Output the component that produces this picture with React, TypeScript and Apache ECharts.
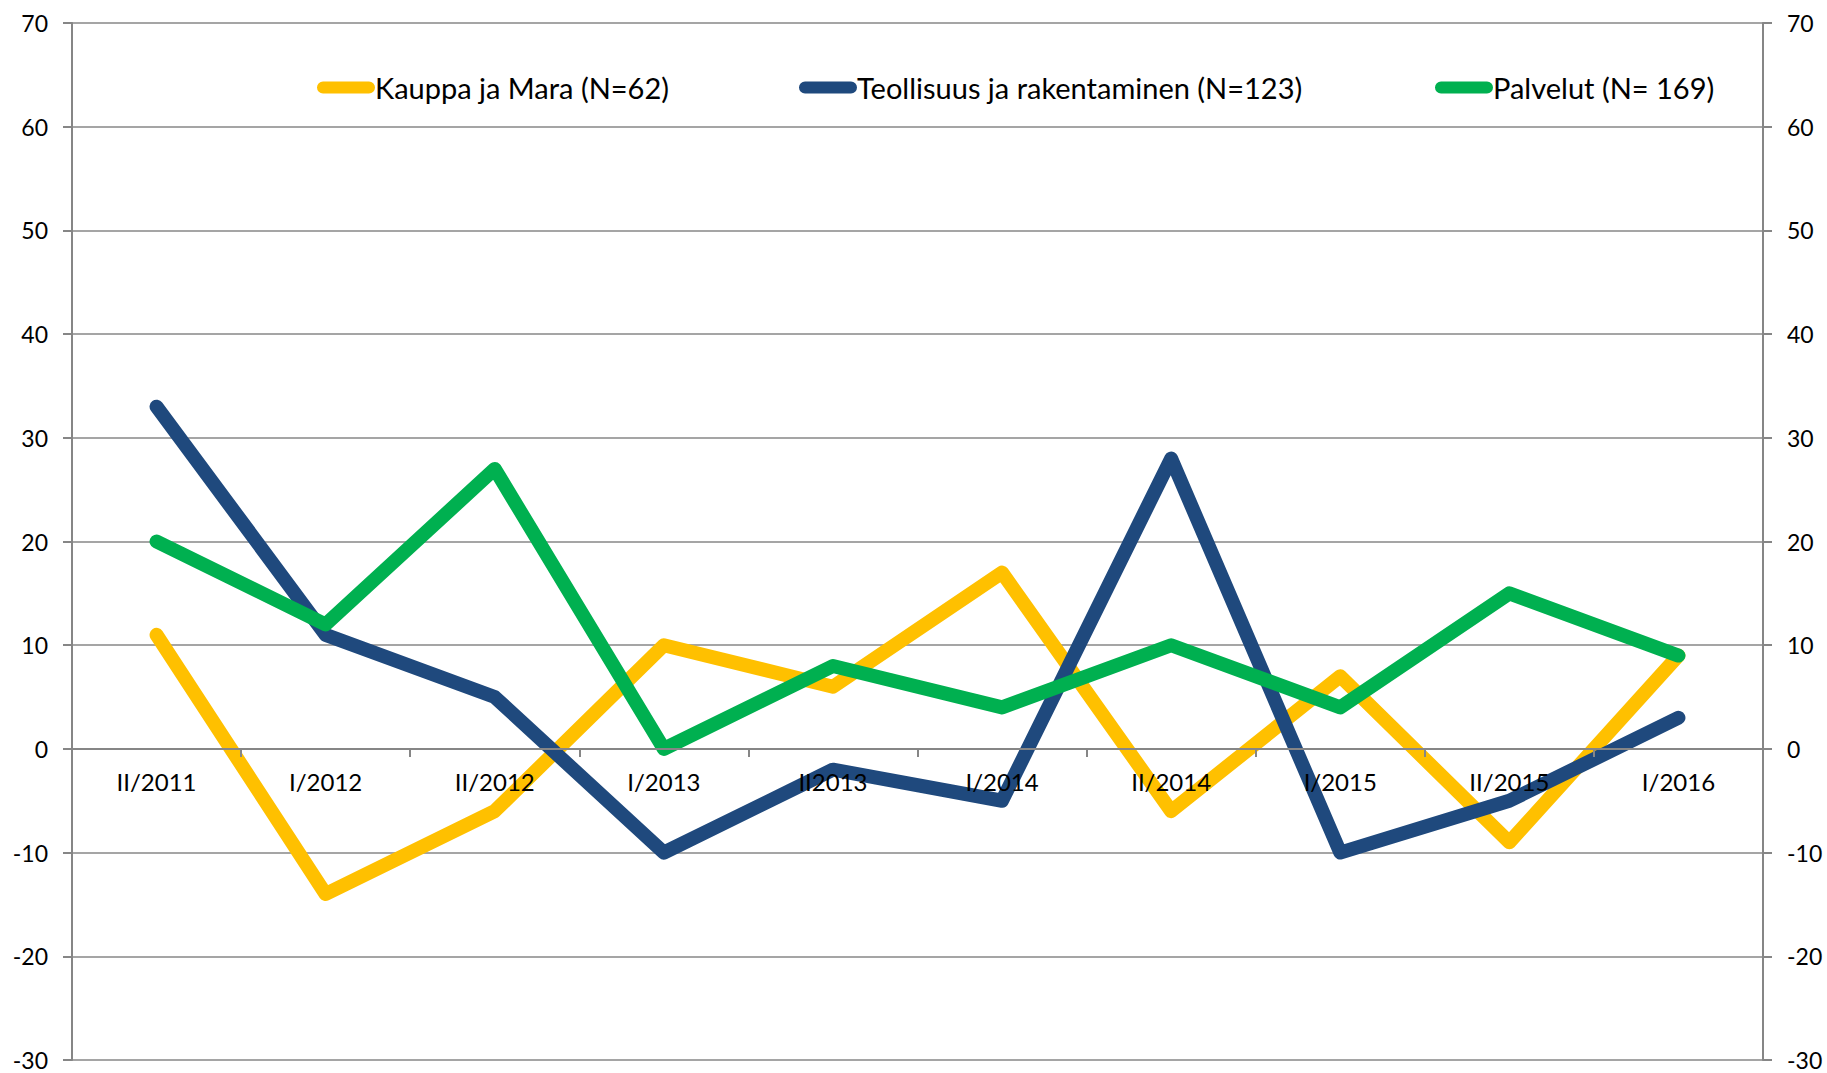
import React, { useEffect, useRef } from "react";
import * as echarts from "echarts";

const categories = ["II/2011", "I/2012", "II/2012", "I/2013", "II2013", "I/2014", "II/2014", "I/2015", "II/2015", "I/2016"];
const seriesNames = ["Kauppa ja Mara (N=62)", "Teollisuus ja rakentaminen (N=123)", "Palvelut (N= 169)"];
const kauppa = [11, -14, -6, 10, 6, 17, -6, 7, -9, 9];
const teollisuus = [33, 11, 5, -10, -2, -5, 28, -10, -5, 3];
const palvelut = [20, 12, 27, 0, 8, 4, 10, 4, 15, 9];
const colors = ["#FFC000", "#1F497D", "#00B050"];
const yMin = -30;
const yMax = 70;
const yStep = 10;

const FONT = "Lato";
const legendIcon = "path://M6,0 L52,0 A6,6 0 0 1 52,12 L6,12 A6,6 0 0 1 6,0 Z";

export default function App() {
  const ref = useRef<HTMLDivElement>(null);
  useEffect(() => {
    if (!ref.current) return;
    const chart = echarts.init(ref.current, undefined, { renderer: "svg" });
    const values = [kauppa, teollisuus, palvelut];
    const legendLefts = [317, 799, 1435];
    const axisLineStyle = { color: "#868686", width: 2 };
    const gridTop = 23;
    const gridBottom = 13;
    const plotH = 1073 - gridTop - gridBottom;
    const zeroOffset = -(plotH * (0 - yMin)) / (yMax - yMin);
    const yAxisCommon = {
      type: "value" as const,
      min: yMin,
      max: yMax,
      interval: yStep,
      axisLine: { show: true, lineStyle: axisLineStyle },
      axisTick: { show: true, length: 9, lineStyle: axisLineStyle },
      axisLabel: { color: "#000", fontFamily: FONT, fontSize: 23, margin: 24 },
    };
    chart.setOption({
      animation: false,
      backgroundColor: "#fff",
      grid: { left: 72, right: 64, top: gridTop, bottom: gridBottom, containLabel: false, outerBoundsMode: "none" },
      legend: legendLefts.map((l, i) => ({
        data: [seriesNames[i]],
        left: l,
        top: 73,
        padding: 0,
        itemWidth: 58,
        itemHeight: 13,
        icon: legendIcon,
        itemGap: 0,
        textStyle: { color: "#000", fontFamily: FONT, fontSize: 29, padding: [0, 0, 0, -5] },
      })),
      xAxis: {
        type: "category",
        data: categories,
        boundaryGap: true,
        offset: zeroOffset,
        z: 10,
        axisLine: { show: true, onZero: false, lineStyle: axisLineStyle },
        axisTick: { show: true, length: 8, interval: 0, lineStyle: axisLineStyle },
        axisLabel: { color: "#000", fontFamily: FONT, fontSize: 24, margin: 21, interval: 0 },
        splitLine: { show: false },
      },
      yAxis: [
        {
          ...yAxisCommon,
          position: "left",
          splitLine: { show: true, lineStyle: { color: "#878787", width: 1.5 } },
        },
        {
          ...yAxisCommon,
          position: "right",
          splitLine: { show: false },
        },
      ],
      series: values.map((v, i) => ({
        name: seriesNames[i],
        type: "line",
        data: v,
        yAxisIndex: 0,
        symbol: "none",
        showSymbol: false,
        color: colors[i],
        z: 2,
        lineStyle: { color: colors[i], width: 14, cap: "round", join: "round" },
      })),
    });
    return () => chart.dispose();
  }, []);
  return (
    <div
      ref={ref}
      style={{ position: "fixed", left: 0, top: 0, width: 1827, height: 1073 }}
    />
  );
}
